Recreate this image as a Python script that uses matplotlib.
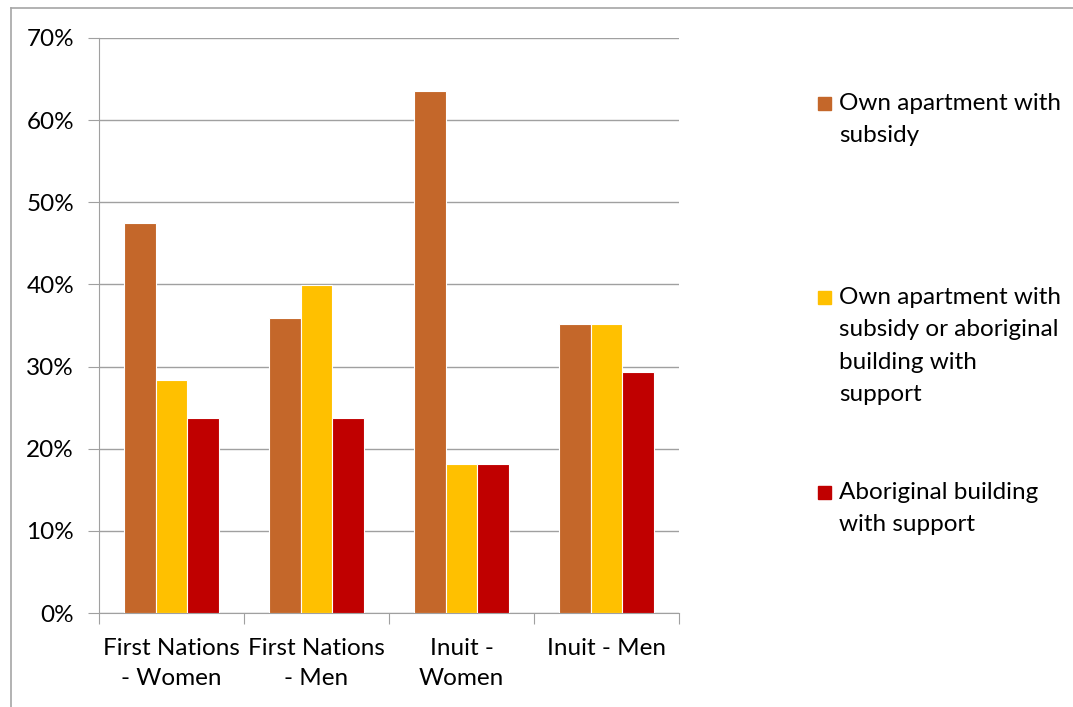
import numpy as np
import matplotlib.pyplot as plt
from matplotlib.patches import Rectangle
from matplotlib.lines import Line2D
from matplotlib.ticker import PercentFormatter

plt.rcParams['font.family'] = ['Lato', 'DejaVu Sans']

categories = ['First Nations\n- Women', 'First Nations\n- Men', 'Inuit -\nWomen', 'Inuit - Men']
series_names = ['Own apartment with\nsubsidy',
                'Own apartment with\nsubsidy or aboriginal\nbuilding with\nsupport',
                'Aboriginal building\nwith support']
own_subsidy = [47.5, 35.9, 63.5, 35.2]
own_or_aboriginal = [28.4, 39.9, 18.1, 35.2]
aboriginal_support = [23.7, 23.8, 18.1, 29.3]
colors = ['#C4672A', '#FFC000', '#C00000']

W, H = 1073, 707
FS = 17.5
fig = plt.figure(figsize=(W / 100, H / 100), dpi=100)
ax = fig.add_axes([99 / W, 1 - 613 / H, (679 - 99) / W, (613 - 38) / H])

x = np.arange(len(categories))
bw = 0.2186
for i, (vals, col) in enumerate(zip([own_subsidy, own_or_aboriginal, aboriginal_support], colors)):
    ax.bar(x + (i - 1) * bw, vals, width=bw, color=col, edgecolor='white', linewidth=0.8, zorder=3)

ax.set_xlim(-0.5, len(categories) - 0.5)
ax.set_ylim(0, 70)
ax.set_yticks(np.arange(0, 71, 10))
ax.yaxis.set_major_formatter(PercentFormatter(decimals=0))
ax.grid(axis='y', color='#A0A0A0', linewidth=1, zorder=0)
ax.set_axisbelow(True)

ax.set_xticks(np.arange(-0.5, len(categories), 1))
ax.set_xticklabels([])
ax.set_xticks(x, minor=True)
ax.set_xticklabels(categories, minor=True, fontsize=FS, linespacing=1.55)
ax.tick_params(axis='x', which='minor', length=0, pad=18)
ax.tick_params(axis='x', which='major', length=8, color='#A0A0A0', direction='out')
ax.tick_params(axis='y', length=8, color='#A0A0A0', labelsize=FS, pad=10)

for s in ['top', 'right']:
    ax.spines[s].set_visible(False)
for s in ['left', 'bottom']:
    ax.spines[s].set_color('#A0A0A0')

# legend, Excel-style spacing down the right side
leg_y = [103, 297, 492]
for name, col, yy in zip(series_names, colors, leg_y):
    fig.patches.append(Rectangle((818 / W, 1 - (yy + 6.5) / H), 13 / W, 13 / H,
                                 transform=fig.transFigure, color=col))
    fig.text(839 / W, 1 - (yy - 10) / H, name, fontsize=FS, va='top', ha='left',
             linespacing=1.67, transform=fig.transFigure)

# chart frame
fig.add_artist(Line2D([11 / W, 11 / W], [0, 1 - 8 / H], color='#A6A6A6', lw=1.2))
fig.add_artist(Line2D([11 / W, 1], [1 - 8 / H, 1 - 8 / H], color='#A6A6A6', lw=1.2))

fig.savefig('out.png', dpi=100)
